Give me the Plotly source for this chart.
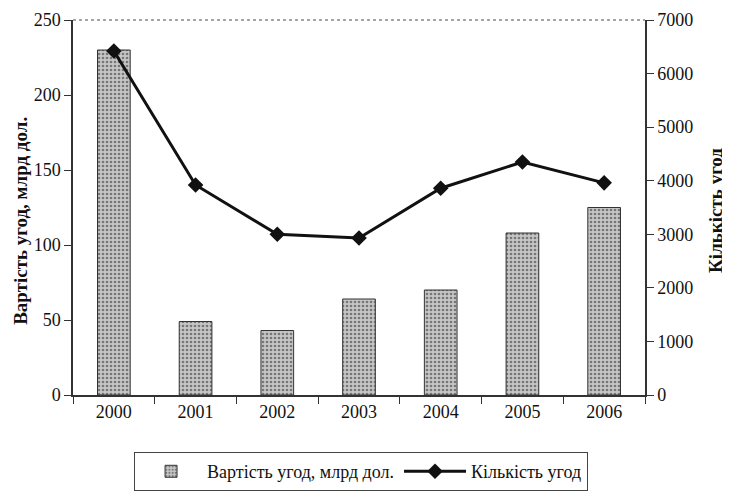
import plotly.graph_objects as go

years = ["2000", "2001", "2002", "2003", "2004", "2005", "2006"]
deal_value = [230, 49, 43, 64, 70, 108, 125]
deal_count = [6420, 3920, 3000, 2930, 3860, 4350, 3960]
left_title = "Вартість угод, млрд дол."
right_title = "Кількість угод"

serif = "Liberation Serif"

fig = go.Figure()
fig.add_trace(go.Bar(
    x=years, y=deal_value, name="Вартість угод, млрд дол.",
    marker=dict(color="#bdbdbd", line=dict(color="#333333", width=1),
                pattern=dict(shape=".", fgcolor="#777777", bgcolor="#c6c6c6",
                             size=4, solidity=0.35, fillmode="replace")),
    width=0.4, yaxis="y"
))
fig.add_trace(go.Scatter(
    x=years, y=deal_count, name="Кількість угод", mode="lines+markers",
    line=dict(color="#111111", width=3),
    marker=dict(symbol="diamond", size=12, color="#111111"),
    yaxis="y2"
))

tf = dict(family=serif, size=18, color="#111111")
fig.update_layout(
    width=722, height=486,
    margin=dict(l=65, r=85, t=12, b=99, autoexpand=False),
    paper_bgcolor="white", plot_bgcolor="white",
    font=dict(family=serif, size=18, color="#111111"),
    showlegend=True,
    legend=dict(orientation="h", x=0.489, xref="container", xanchor="center",
                y=0.006, yref="container", yanchor="bottom",
                bordercolor="#444444", borderwidth=1, font=tf,
                itemwidth=62, tracegroupgap=0),
    xaxis=dict(showline=True, linecolor="#333333", linewidth=1.5,
               ticks="outside", tickson="boundaries", ticklen=7, tickcolor="#333333",
               showgrid=False, mirror=False, tickfont=tf, automargin=False),
    yaxis=dict(range=[0, 250], dtick=50, showline=True, linecolor="#333333", linewidth=1.5,
               ticks="outside", ticklen=7, tickcolor="#333333", showgrid=False, zeroline=False,
               tickfont=tf, automargin=False),
    yaxis2=dict(range=[0, 7000], dtick=1000, overlaying="y", side="right",
                showline=True, linecolor="#333333", linewidth=1.5,
                ticks="outside", ticklen=7, tickcolor="#333333", showgrid=False, zeroline=False,
                tickfont=tf, automargin=False),
)
fig.add_annotation(text="<b>" + left_title + "</b>", xref="paper", yref="paper",
                   x=-0.093, y=0.464, textangle=-90, showarrow=False,
                   xanchor="center", yanchor="middle",
                   font=dict(family=serif, size=19, color="#111111"))
fig.add_annotation(text="<b>" + right_title + "</b>", xref="paper", yref="paper",
                   x=1.122, y=0.493, textangle=-90, showarrow=False,
                   xanchor="center", yanchor="middle",
                   font=dict(family=serif, size=19, color="#111111"))
fig.add_shape(type="line", xref="paper", yref="paper", x0=0, x1=1, y0=1, y1=1,
              line=dict(color="#888888", width=1.5, dash="dot"))

fig.write_html("out.html")
